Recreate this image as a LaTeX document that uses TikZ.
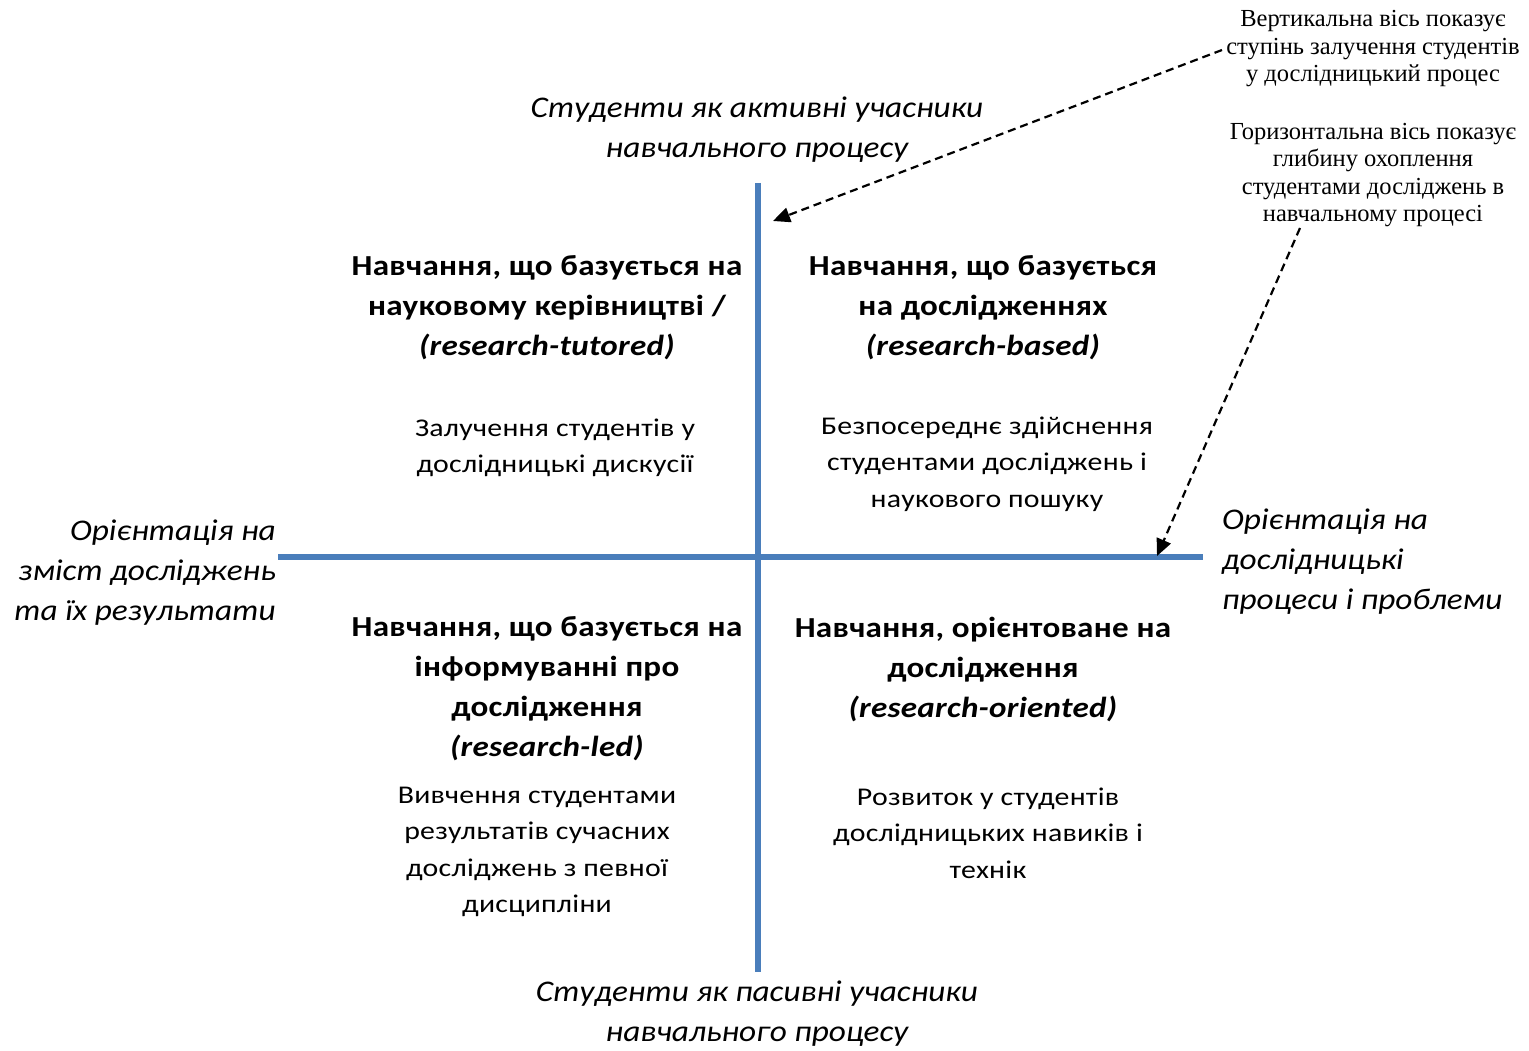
\documentclass[tikz,border=0pt]{standalone}
\usepackage{fontspec}
\setmainfont{Carlito}
\newfontfamily\notefont{Liberation Serif}
\newfontfamily\bodyfont[FakeStretch=1.17,LetterSpace=1]{Carlito}
\newfontfamily\titlefont[FakeStretch=1.14,LetterSpace=1]{Carlito}
\newfontfamily\labelfont[FakeStretch=1.11]{Carlito}
\usetikzlibrary{arrows.meta}
\definecolor{axisblue}{HTML}{4A7EBB}
\begin{document}
\begin{tikzpicture}[x=1pt,y=-1pt,
  axis/.style={draw=axisblue,line width=5.5pt},
  titletext/.style={align=center,font=\titlefont\fontsize{29}{40}\selectfont\bfseries,inner sep=0pt},
  bodytext/.style={align=center,font=\bodyfont\fontsize{25.5}{36.5}\selectfont,inner sep=0pt},
  axislabel/.style={font=\labelfont\fontsize{30}{40}\selectfont\itshape,inner sep=0pt},
  notetext/.style={align=center,font=\notefont\fontsize{24.5}{27.5}\selectfont,inner sep=0pt},
  pointer/.style={dashed,dash pattern=on 8pt off 5pt,line width=2.2pt,-{Triangle[length=17pt,width=15pt]}}
]
\useasboundingbox (0,0) rectangle (1529,1051);
% axes
\coordinate (vt) at (758,183);
\coordinate (vb) at (758,972);
\coordinate (hl) at (278,557);
\coordinate (hr) at (1203,557);
\draw[axis] (vt) -- (vb);
\draw[axis] (hl) -- (hr);
% axis labels
\node[axislabel,align=center] (top) at (757,130) {Студенти як активні учасники\\навчального процесу};
\node[axislabel,align=center] (bot) at (757,1014) {Студенти як пасивні учасники\\навчального процесу};
\node[axislabel,align=right,anchor=east] (left) at (276,573) {Орієнтація на\\зміст досліджень\\та їх результати};
\node[axislabel,align=left,anchor=west] (right) at (1222,562) {Орієнтація на\\дослідницькі\\процеси і проблеми};
% quadrants
\node[titletext] (tlt) at (547,308) {Навчання, що базується на\\науковому керівництві /\\\textit{(research-tutored)}};
\node[bodytext] (tlb) at (555,448) {Залучення студентів у\\дослідницькі дискусії};
\node[titletext] (trt) at (983,308) {Навчання, що базується\\на дослідженнях\\\textit{(research-based)}};
\node[bodytext] (trb) at (987,464) {Безпосереднє здійснення\\студентами досліджень і\\наукового пошуку};
\node[titletext] (blt) at (547,689) {Навчання, що базується на\\інформуванні про\\дослідження\\\textit{(research-led)}};
\node[bodytext] (blb) at (537,852) {Вивчення студентами\\результатів сучасних\\досліджень з певної\\дисципліни};
\node[titletext] (brt) at (983,669) {Навчання, орієнтоване на\\дослідження\\\textit{(research-oriented)}};
\node[bodytext] (brb) at (988,833) {Розвиток у студентів\\дослідницьких навиків і\\технік};
% notes
\node[notetext] (n1) at (1373,49) {Вертикальна вісь показує\\ступінь залучення студентів\\у дослідницький процес};
\node[notetext] (n2) at (1373,175) {Горизонтальна вісь показує\\глибину охоплення\\студентами досліджень в\\навчальному процесі};
\coordinate (a1s) at (1222,50);
\coordinate (a1e) at (773,221);
\coordinate (a2s) at (1300,228);
\coordinate (a2e) at (1157,556);
\draw[pointer] (a1s) -- (a1e);
\draw[pointer] (a2s) -- (a2e);
\end{tikzpicture}
\end{document}
